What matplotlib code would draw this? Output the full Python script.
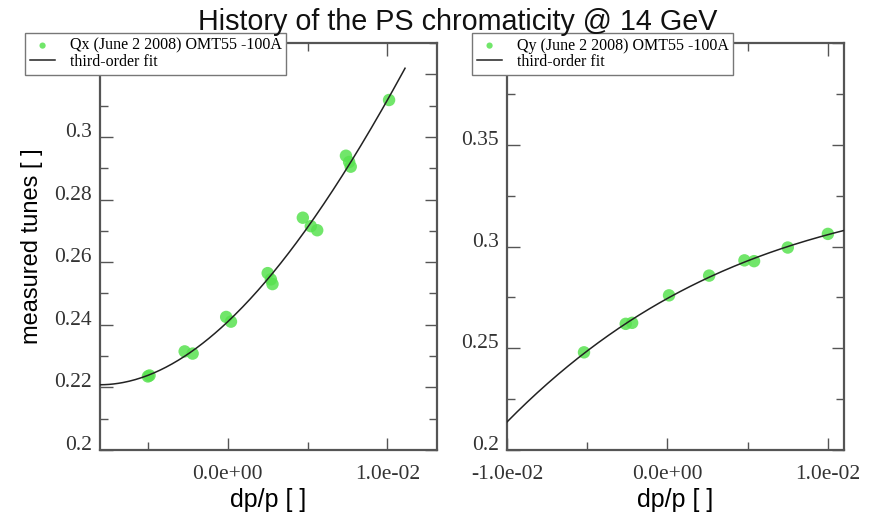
import matplotlib.pyplot as plt
import numpy as np
from matplotlib.ticker import MultipleLocator, FormatStrFormatter, FuncFormatter

# Qx measurements (June 2 2008)
dpp_x = [-0.0050, -0.0049, -0.0027, -0.0022, -0.0001, 0.0002, 0.0025, 0.0027, 0.0028,
         0.0047, 0.0052, 0.0056, 0.0074, 0.0076, 0.0077, 0.0101]
qx = [0.2235, 0.2238, 0.2315, 0.2308, 0.2425, 0.2410, 0.2565, 0.2545, 0.2530,
      0.2742, 0.2715, 0.2702, 0.2940, 0.2920, 0.2905, 0.3118]

# Qy measurements (June 2 2008)
dpp_y = [-0.0052, -0.0026, -0.0022, 0.0001, 0.0026, 0.0048, 0.0054, 0.0075, 0.0100]
qy = [0.2480, 0.2620, 0.2625, 0.2760, 0.2857, 0.2932, 0.2928, 0.2995, 0.3062]

green = '#58e250'
serif = 'Liberation Serif'
sans = 'Liberation Sans'


def ylab(top):
    # the top label sits under the legend in the original, so leave it blank
    return FuncFormatter(lambda v, pos: '' if v > top - 1e-6 else '%g' % round(v, 4))


fig = plt.figure(figsize=(8.75, 5.14), dpi=100)
ax1 = fig.add_axes([0.1143, 0.1245, 0.3851, 0.7918])
ax2 = fig.add_axes([0.5794, 0.1245, 0.3851, 0.7918])

# third-order fits
px = np.polyfit(dpp_x, qx, 3)
py = np.polyfit(dpp_y, qy, 3)
xx = np.linspace(-0.008, 0.0111, 200)
xy = np.linspace(-0.0100, 0.0110, 200)

ax1.scatter(dpp_x, qx, s=80, color=green, alpha=0.85, edgecolors='none',
            label='Qx (June 2 2008) OMT55 -100A', zorder=2)
ax1.plot(xx, np.polyval(px, xx), color='#222222', lw=1.1, label='third-order fit', zorder=3)
ax2.scatter(dpp_y, qy, s=80, color=green, alpha=0.85, edgecolors='none',
            label='Qy (June 2 2008) OMT55 -100A', zorder=2)
ax2.plot(xy, np.polyval(py, xy), color='#222222', lw=1.1, label='third-order fit', zorder=3)

ax1.set_xlim(-0.008, 0.0131)
ax1.set_ylim(0.2, 0.33)
ax1.yaxis.set_major_locator(MultipleLocator(0.02))
ax1.yaxis.set_minor_locator(MultipleLocator(0.01))
ax1.yaxis.set_major_formatter(ylab(0.32))

ax2.set_xlim(-0.01, 0.011)
ax2.set_ylim(0.2, 0.4)
ax2.yaxis.set_major_locator(MultipleLocator(0.05))
ax2.yaxis.set_minor_locator(MultipleLocator(0.025))
ax2.yaxis.set_major_formatter(ylab(0.4))

for ax in (ax1, ax2):
    ax.xaxis.set_major_locator(MultipleLocator(0.01))
    ax.xaxis.set_minor_locator(MultipleLocator(0.005))
    ax.xaxis.set_major_formatter(FormatStrFormatter('%.1e'))
    ax.tick_params(which='both', direction='in', top=True, right=True,
                   color='#555555', width=1.0)
    ax.tick_params(which='major', length=9, labelsize=15.5)
    ax.tick_params(axis='x', which='major', pad=11)
    ax.tick_params(axis='y', which='major', pad=6)
    ax.tick_params(which='minor', length=6)
    for t in ax.yaxis.get_major_ticks():
        t.label1.set_va('baseline')
    for lab in ax.get_xticklabels() + ax.get_yticklabels():
        lab.set_family(serif)
        lab.set_color('#333333')
    for sp in ax.spines.values():
        sp.set_color('#555555')
        sp.set_linewidth(1.6)
    ax.set_xlabel('dp/p [ ]', family=sans, fontsize=18, labelpad=3)

ax1.set_ylabel('measured tunes [ ]', family=sans, fontsize=17, labelpad=8)

leg_kw = dict(loc='upper left', bbox_transform=fig.transFigure, fancybox=False,
              framealpha=1, edgecolor='#777777', prop={'family': serif, 'size': 11.5},
              borderpad=0.3, labelspacing=0.0, handlelength=1.6, handletextpad=0.9,
              borderaxespad=0, markerscale=0.5)
l1 = ax1.legend(bbox_to_anchor=(25 / 875, 1 - 33 / 514), **leg_kw)
l2 = ax2.legend(bbox_to_anchor=(472 / 875, 1 - 33 / 514), **leg_kw)
for l in (l1, l2):
    l.get_frame().set_linewidth(1.0)
    l.set_zorder(5)

fig.text(0.523, 0.957, 'History of the PS chromaticity @ 14 GeV', family=sans,
         fontsize=20.7, ha='center', va='center', color='#111111')

fig.savefig('out.png', dpi=100)
plt.close()
